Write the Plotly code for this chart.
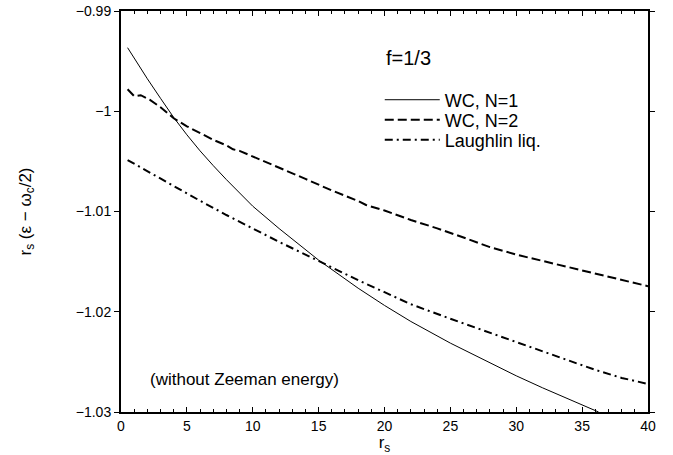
import plotly.graph_objects as go

# WC, N=1 (solid)
x_wc1 = [0.5, 1, 2, 3, 4, 5, 6, 7, 8, 10, 12, 15, 18, 20, 22, 25, 28, 30, 32, 35, 36.25]
y_wc1 = [-0.99366, -0.99471, -0.99676, -0.99871, -1.00062, -1.00235, -1.00395, -1.00542,
         -1.00682, -1.00947, -1.01170, -1.01485, -1.01765, -1.01937, -1.02097, -1.02313,
         -1.02511, -1.02639, -1.02759, -1.02930, -1.03000]

# WC, N=2 (dashed)
x_wc2 = [0.5, 1.0, 1.5, 2.2, 3, 4, 5, 6, 7, 8, 8.5, 9, 10, 12, 14, 16, 18, 18.6, 20, 22,
         24, 26, 28, 30, 33, 36, 40]
y_wc2 = [-0.99781, -0.99850, -0.99840, -0.99887, -0.99960, -1.00070, -1.00150, -1.00219,
         -1.00285, -1.00340, -1.00380, -1.00395, -1.00450, -1.00565, -1.00675, -1.00790,
         -1.00895, -1.00935, -1.00990, -1.01085, -1.01168, -1.01260, -1.01355, -1.01430,
         -1.01525, -1.01625, -1.01745]

# Laughlin liquid (dash-dot)
x_lau = [0.5, 2, 4, 6, 8, 10, 12, 14, 15.5, 18, 20, 22, 25, 28, 30, 33, 36, 38, 40]
y_lau = [-1.00487, -1.00600, -1.00748, -1.00893, -1.01035, -1.01172, -1.01303, -1.01430,
         -1.01528, -1.01685, -1.01805, -1.01925, -1.02070, -1.02210, -1.02305, -1.02445,
         -1.02580, -1.02660, -1.02720]

x_tickvals = [0, 5, 10, 15, 20, 25, 30, 35, 40]
x_ticktext = ["0", "5", "10", "15", "20", "25", "30", "35", "40"]
y_tickvals = [-1.03, -1.02, -1.01, -1.0, -0.99]
y_ticktext = ["\u22121.03", "\u22121.02", "\u22121.01", "\u22121", "\u22120.99"]

FONT = "Liberation Sans, Arial, Helvetica, sans-serif"

fig = go.Figure()
fig.add_trace(go.Scatter(x=x_wc1, y=y_wc1, mode="lines", name="WC, N=1", legend="legend",
                         line=dict(color="black", width=1)))
fig.add_trace(go.Scatter(x=x_wc2, y=y_wc2, mode="lines", name="WC, N=2", legend="legend2",
                         line=dict(color="black", width=2, dash="9px,4px")))
fig.add_trace(go.Scatter(x=x_lau, y=y_lau, mode="lines", name="Laughlin liq.", legend="legend3",
                         line=dict(color="black", width=2, dash="8px,4px,2px,4px")))

def leg(y):
    return dict(x=0.491, y=y, xanchor="left", yanchor="middle",
                bgcolor="rgba(0,0,0,0)", borderwidth=0,
                font=dict(size=18, family=FONT), itemwidth=55)

fig.update_layout(
    width=673, height=455,
    margin=dict(l=121, r=25, t=11, b=43),
    paper_bgcolor="white", plot_bgcolor="white",
    font=dict(family=FONT, color="black", size=14),
    showlegend=True,
    legend=leg(0.778), legend2=leg(0.728), legend3=leg(0.678),
    annotations=[
        dict(text="f=1/3", x=0.499, y=0.884, xref="paper", yref="paper",
             xanchor="left", yanchor="middle", showarrow=False,
             font=dict(size=20, family=FONT)),
        dict(text="(without Zeeman energy)", x=0.052, y=0.082, xref="paper", yref="paper",
             xanchor="left", yanchor="middle", showarrow=False,
             font=dict(size=17, family=FONT)),
    ],
)

fig.update_xaxes(
    range=[0, 40], tickmode="array", tickvals=x_tickvals, ticktext=x_ticktext,
    ticks="inside", ticklen=5, tickwidth=1, tickcolor="black",
    minor=dict(dtick=1, ticks="inside", ticklen=3, tickwidth=1, tickcolor="black"),
    showline=True, linewidth=2, linecolor="black", mirror="allticks",
    showgrid=False, zeroline=False,
    tickfont=dict(size=14, family=FONT), ticklabeloverflow="allow",
    title=dict(text="r<sub>s</sub>", font=dict(size=17, family=FONT), standoff=0),
    automargin=False,
)
fig.update_yaxes(
    range=[-1.03, -0.99], tickmode="array", tickvals=y_tickvals, ticktext=y_ticktext,
    ticks="outside", ticklen=5, tickwidth=1, tickcolor="black",
    showline=True, linewidth=2, linecolor="black", mirror="ticks",
    showgrid=False, zeroline=False,
    tickfont=dict(size=14, family=FONT), ticklabeloverflow="allow",
    title=dict(text="r<sub>s</sub> (\u03b5 \u2212 \u03c9<sub>c</sub>/2)",
               font=dict(size=17, family=FONT), standoff=40),
    automargin=False,
)

fig.write_html("out.html", config={"displayModeBar": False},
               post_script="document.body.style.margin='0px';")
